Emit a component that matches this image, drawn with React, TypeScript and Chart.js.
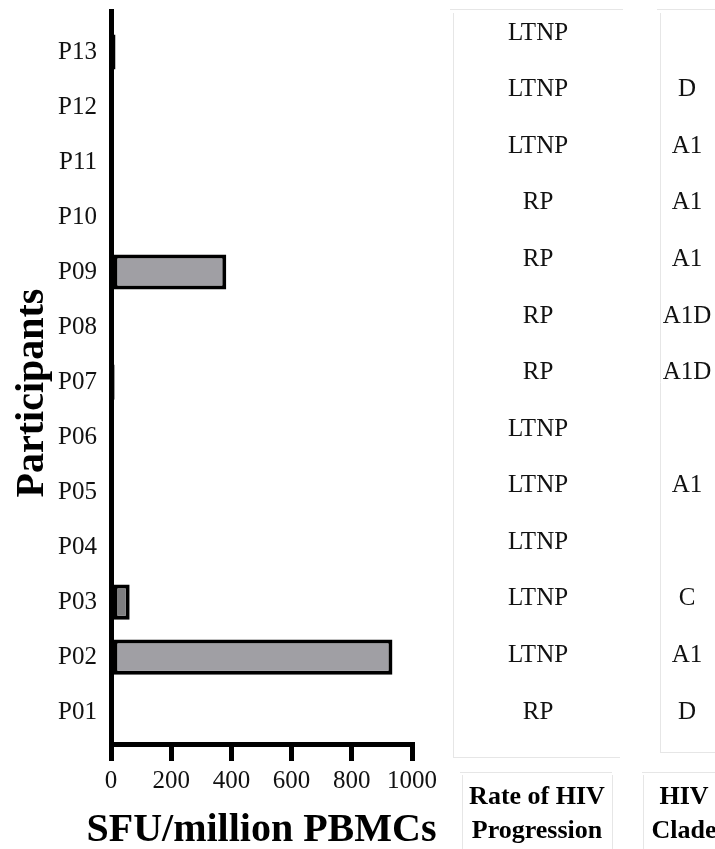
import React, { useEffect, useRef } from "react";
import { Chart, registerables } from "chart.js";

Chart.register(...registerables);

// Participants from bottom (P01) to top (P13)
const participants = ["P01", "P02", "P03", "P04", "P05", "P06", "P07", "P08", "P09", "P10", "P11", "P12", "P13"];
const sfuValues = [0, 935, 62, 0, 0, 0, 12, 0, 383, 0, 0, 0, 15];
const progression = ["RP", "LTNP", "LTNP", "LTNP", "LTNP", "LTNP", "RP", "RP", "RP", "RP", "LTNP", "LTNP", "LTNP"];
const clade = ["D", "A1", "C", "", "A1", "", "A1D", "A1D", "A1", "A1", "A1", "D", ""];
const xTicks = [0, 200, 400, 600, 800, 1000];
const xTitle = "SFU/million PBMCs";
const yTitle = "Participants";
const progressionHeader = ["Rate of HIV", "Progression"];
const cladeHeader = ["HIV", "Clade"];

const SERIF = '"Liberation Serif", "Times New Roman", serif';

const tablePlugin = {
  id: "tablePlugin",
  afterDraw(chart: any) {
    const ctx = chart.ctx as CanvasRenderingContext2D;
    const area = chart.chartArea;
    const yScale = chart.scales.y;
    ctx.save();

    // axis titles
    ctx.fillStyle = "#000";
    ctx.font = `bold 40px ${SERIF}`;
    ctx.textAlign = "center";
    ctx.textBaseline = "middle";
    ctx.fillText(xTitle, (area.left + area.right) / 2, 831);
    ctx.translate(33, 393);
    ctx.rotate(-Math.PI / 2);
    ctx.fillText(yTitle, 0, 0);
    ctx.setTransform(1, 0, 0, 1, 0, 0);

    // panel frames
    ctx.strokeStyle = "#e6e6e6";
    ctx.lineWidth = 1;
    const line = (x1: number, y1: number, x2: number, y2: number) => {
      ctx.beginPath();
      ctx.moveTo(x1, y1);
      ctx.lineTo(x2, y2);
      ctx.stroke();
    };
    line(450, 9.5, 623, 9.5);
    line(453.5, 13, 453.5, 757);
    line(453, 757.5, 620, 757.5);
    line(657, 9.5, 715, 9.5);
    line(660.5, 13, 660.5, 752);
    line(660, 752.5, 715, 752.5);
    line(460, 772.5, 612, 772.5);
    line(462.5, 775, 462.5, 849);
    line(612.5, 775, 612.5, 849);
    line(642, 772.5, 715, 772.5);
    line(643.5, 775, 643.5, 849);

    // table rows
    const top = area.top + 22;
    const bottom = yScale.getPixelForValue(0);
    const n = participants.length;
    const step = (bottom - top) / (n - 1);
    ctx.fillStyle = "#111";
    ctx.font = `25px ${SERIF}`;
    for (let i = 0; i < n; i++) {
      const yy = bottom - i * step;
      if (progression[i]) ctx.fillText(progression[i], 538, yy);
      if (clade[i]) ctx.fillText(clade[i], 687, yy);
    }

    // headers
    ctx.fillStyle = "#000";
    ctx.font = `bold 26px ${SERIF}`;
    progressionHeader.forEach((t, k) => ctx.fillText(t, 537, 797 + k * 34));
    cladeHeader.forEach((t, k) => ctx.fillText(t, 684, 797 + k * 34));
    ctx.restore();
  },
};

export default function App() {
  const ref = useRef<HTMLCanvasElement>(null);
  useEffect(() => {
    if (!ref.current) return;
    const chart = new Chart(ref.current, {
      type: "bar",
      data: {
        datasets: [
          {
            data: sfuValues.map((v, i) => ({ x: v, y: i })) as any,
            backgroundColor: participants.map((p) => (p === "P03" ? "#7e7e80" : "#a09fa4")),
            borderColor: "#000",
            borderWidth: 4,
            borderSkipped: false,
            barPercentage: 0.8,
            categoryPercentage: 0.8,
          },
        ],
      },
      options: {
        indexAxis: "y",
        responsive: false,
        animation: false,
        layout: { padding: { top: 11, right: 303, bottom: 0, left: 0 } },
        plugins: { legend: { display: false }, tooltip: { enabled: false } },
        scales: {
          x: {
            type: "linear",
            min: 0,
            max: 1000,
            afterBuildTicks: (scale: any) => {
              scale.ticks = xTicks.map((v) => ({ value: v }));
            },
            afterFit: (scale: any) => {
              scale.height = 105;
            },
            border: { display: true, color: "#000", width: 5 },
            grid: { drawOnChartArea: false, drawTicks: true, tickLength: 17, color: "#000", lineWidth: 5 },
            ticks: {
              color: "#111",
              font: { family: SERIF, size: 25 },
              padding: 5,
              maxRotation: 0,
              callback: (v: any) => String(v),
            },
          },
          y: {
            type: "linear",
            min: -0.58,
            max: 12.745,
            bounds: "data",
            offset: false,
            afterBuildTicks: (scale: any) => {
              scale.ticks = participants.map((_, i) => ({ value: i }));
            },
            afterFit: (scale: any) => {
              scale.width = 111;
              scale.paddingTop = 0;
              scale.paddingBottom = 0;
            },
            border: { display: true, color: "#000", width: 5 },
            grid: { display: false, drawTicks: false, offset: false },
            ticks: {
              autoSkip: false,
              color: "#111",
              font: { family: SERIF, size: 25 },
              padding: 14,
              callback: (v: any) => participants[Math.round(Number(v))] ?? "",
            },
          },
        },
      },
      plugins: [tablePlugin],
    });
    return () => chart.destroy();
  }, []);
  return (
    <div style={{ position: "fixed", left: 0, top: 0, width: 715, height: 849, background: "#fff" }}>
      <canvas ref={ref} width={715} height={849} style={{ width: 715, height: 849, display: "block" }} />
    </div>
  );
}
